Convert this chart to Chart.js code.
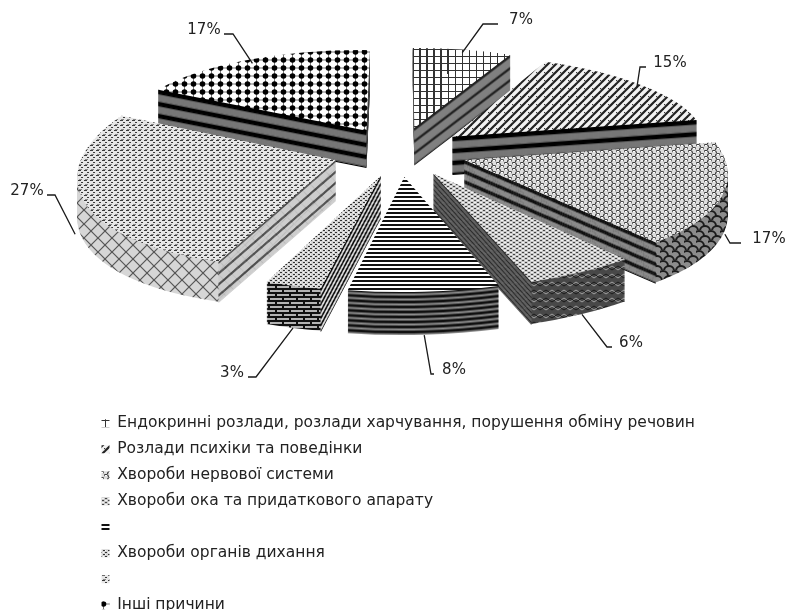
<!DOCTYPE html>
<html>
<head>
<meta charset="utf-8">
<title>Структура причин</title>
<script src="https://cdn.jsdelivr.net/npm/chart.js@4"></script>
<style>
  html, body { margin: 0; padding: 0; background: #fff; }
  canvas { display: block; }
</style>
</head>
<body>
<canvas id="pieChart" width="786" height="610"></canvas>
<script>
var categories = [
  'Ендокринні розлади, розлади харчування, порушення обміну речовин',
  'Розлади психіки та поведінки',
  'Хвороби нервової системи',
  'Хвороби ока та придаткового апарату',
  '',
  'Хвороби органів дихання',
  '',
  'Інші причини'
];
var shares = [7, 15, 17, 6, 8, 3, 27, 17];

// where the percent labels sit: text centre, then the short horizontal bit of the leader
var calloutX = [521, 670, 769, 631, 454, 232, 27, 204];
var calloutY = [20, 63, 239, 343, 370, 373, 191, 30];
var calloutNear = [498, 646, 741, 612, 434, 248, 47, 224];
var calloutElbow = [483, 640, 730, 607, 431, 256, 55, 233];

// perspective of the pie plane
var planeX = 400, planeY = 151.5, planeR = 260, planeS = 95, perspective = 0.12;
var explode = 0.26, depth = 39;

function project(u, v) {
  var w = 1 - perspective * v;
  return { x: planeX + planeR * u / w, y: planeY + planeS * v / w };
}

function tile(w, h, paint) {
  var c = document.createElement('canvas');
  c.width = w;
  c.height = h;
  var g = c.getContext('2d');
  paint(g, w, h);
  return document.getElementById('pieChart').getContext('2d').createPattern(c, 'repeat');
}

function line(g, x1, y1, x2, y2) {
  g.beginPath();
  g.moveTo(x1, y1);
  g.lineTo(x2, y2);
  g.stroke();
}

function bg(g, w, h, color) {
  g.fillStyle = color;
  g.fillRect(0, 0, w, h);
}

// greys for one depth cycle of a side wall, with a soft step between them
function band(dark, light, nDark, nLight) {
  var out = [];
  for (var i = 0; i < nDark; i++) out.push(dark);
  out.push('#555');
  for (var j = 0; j < nLight; j++) out.push(light);
  out.push('#555');
  return out;
}

var topPatterns = [
  tile(7, 7, function (g, w, h) {
    bg(g, w, h, '#fff');
    g.strokeStyle = '#333';
    line(g, 0, 0.5, w, 0.5);
    line(g, 0.5, 0, 0.5, h);
  }),
  tile(8, 8, function (g, w, h) {
    bg(g, w, h, '#f2f2f2');
    g.strokeStyle = '#222';
    g.lineWidth = 2.2;
    line(g, -2, 6, 6, -2);
    line(g, 2, 10, 10, 2);
    line(g, 6, 14, 14, 6);
    line(g, -4, 4, 4, -4);
  }),
  tile(8, 6, function (g, w, h) {
    bg(g, w, h, '#dedede');
    g.strokeStyle = '#3c3c3c';
    g.lineWidth = 1.1;
    g.beginPath();
    g.arc(2, 3, 2.5, Math.PI, 0);
    g.stroke();
    g.beginPath();
    g.arc(6, 6, 2.5, Math.PI, 0);
    g.stroke();
    g.fillStyle = '#fff';
    g.fillRect(1, 1, 2, 1);
    g.fillRect(5, 4, 2, 1);
  }),
  tile(6, 4, function (g, w, h) {
    bg(g, w, h, '#c8c8c8');
    g.fillStyle = '#444';
    g.fillRect(0, 0, 2, 1);
    g.fillRect(3, 2, 2, 1);
    g.fillStyle = '#f4f4f4';
    g.fillRect(3, 0, 2, 1);
    g.fillRect(0, 2, 2, 1);
  }),
  tile(1, 4, function (g, w, h) {
    bg(g, w, h, '#fff');
    g.fillStyle = '#111';
    g.fillRect(0, 0, 1, 2);
  }),
  tile(5, 4, function (g, w, h) {
    bg(g, w, h, '#d4d4d4');
    g.fillStyle = '#333';
    g.fillRect(0, 0, 2, 1);
    g.fillRect(3, 2, 2, 1);
    g.fillStyle = '#fafafa';
    g.fillRect(3, 0, 1, 1);
    g.fillRect(0, 2, 1, 1);
  }),
  tile(6, 5, function (g, w, h) {
    bg(g, w, h, '#e6e6e6');
    g.fillStyle = '#3a3a3a';
    g.fillRect(0, 0, 3, 1);
    g.fillRect(3, 2, 2, 1);
    g.fillStyle = '#888';
    g.fillRect(1, 4, 3, 1);
  }),
  tile(9, 8, function (g, w, h) {
    bg(g, w, h, '#fff');
    g.strokeStyle = '#777';
    line(g, 0, 4, w, 4);
    line(g, 4.5, 0, 4.5, h);
    g.fillStyle = '#000';
    g.beginPath();
    g.arc(4.5, 4, 2.8, 0, Math.PI * 2);
    g.fill();
  })
];

var rimPatterns = [
  null,
  null,
  tile(12, 10, function (g, w, h) {
    bg(g, w, h, '#8c8c8c');
    g.strokeStyle = '#1c1c1c';
    g.lineWidth = 2;
    g.beginPath();
    g.arc(3, 6, 5, Math.PI, 0);
    g.stroke();
    g.beginPath();
    g.arc(9, 11, 5, Math.PI, 0);
    g.stroke();
    g.beginPath();
    g.arc(-3, 11, 5, Math.PI, 0);
    g.stroke();
  }),
  tile(12, 8, function (g, w, h) {
    bg(g, w, h, '#484848');
    g.strokeStyle = '#a0a0a0';
    g.lineWidth = 1;
    line(g, 0, 2, 6, 6);
    line(g, 6, 6, 12, 2);
    g.strokeStyle = '#1a1a1a';
    line(g, 0, 6, 6, 2);
    line(g, 6, 2, 12, 6);
  }),
  null,
  tile(14, 8, function (g, w, h) {
    bg(g, w, h, '#b4b4b4');
    g.strokeStyle = '#111';
    g.lineWidth = 2;
    line(g, 0, 1, w, 1);
    line(g, 0, 5, w, 5);
    line(g, 3, 1, 3, 5);
    line(g, 10, 5, 10, 9);
  }),
  tile(14, 14, function (g, w, h) {
    bg(g, w, h, '#d6d6d6');
    g.strokeStyle = '#555';
    g.lineWidth = 1.2;
    line(g, 0, 0, 14, 14);
    line(g, 14, 0, 0, 14);
  }),
  null
];

var wallBands = [
  band('#222', '#808080', 2, 8),
  band('#000', '#777', 4, 6),
  band('#111', '#8a8a8a', 3, 5),
  band('#222', '#666', 1, 2),
  band('#111', '#8c8c8c', 2, 1),
  band('#000', '#eee', 2, 3),
  band('#444', '#cdcdcd', 1, 8),
  band('#000', '#777', 4, 6)
];

function sliceGeometry(arc) {
  var p = arc.getProps(['x', 'y', 'startAngle', 'endAngle', 'outerRadius']);
  var a = p.startAngle, b = p.endAngle, m = (a + b) / 2;
  var tu = explode * Math.cos(m), tv = explode * Math.sin(m);
  var T = project(tu, tv);
  var A = project(tu + Math.cos(a), tv + Math.sin(a));
  var B = project(tu + Math.cos(b), tv + Math.sin(b));
  var C = project(tu + Math.cos(m), tv + Math.sin(m));
  var ax = Math.cos(a), ay = Math.sin(a), bx = Math.cos(b), by = Math.sin(b);
  var det = ax * by - bx * ay;
  var f00 = A.x - T.x, f01 = B.x - T.x, f10 = A.y - T.y, f11 = B.y - T.y;
  var l00 = (f00 * by - f01 * ay) / det;
  var l01 = (f01 * ax - f00 * bx) / det;
  var l10 = (f10 * by - f11 * ay) / det;
  var l11 = (f11 * ax - f10 * bx) / det;
  var r = p.outerRadius;
  var matrix = new DOMMatrix([
    l00 / r, l10 / r, l01 / r, l11 / r,
    T.x - (l00 * p.x + l01 * p.y) / r,
    T.y - (l10 * p.x + l11 * p.y) / r
  ]);
  return { T: T, A: A, B: B, C: C, tv: tv, m: m, matrix: matrix, height: Math.round(depth / (1 - perspective * Math.sin(m) * 0.7)) };
}

function drawArc(ctx, arc, matrix, fill) {
  if (fill instanceof CanvasPattern) fill.setTransform(matrix.inverse());
  arc.options = Object.assign({}, arc.options, { backgroundColor: fill, borderWidth: 0 });
  ctx.save();
  ctx.setTransform(matrix);
  arc.draw(ctx);
  ctx.restore();
}

// a wall is visible when the rest of the slice lies above its top edge
function wallVisible(g, P) {
  var lineY = g.T.y + (P.y - g.T.y) * (g.C.x - g.T.x) / (P.x - g.T.x);
  return g.C.y < lineY;
}

function drawWall(ctx, g, P, colors) {
  for (var d = g.height; d >= 0; d--) {
    ctx.fillStyle = colors[d % colors.length];
    ctx.beginPath();
    ctx.moveTo(g.T.x, g.T.y + d);
    ctx.lineTo(P.x, P.y + d);
    ctx.lineTo(P.x, P.y + d + 1.3);
    ctx.lineTo(g.T.x, g.T.y + d + 1.3);
    ctx.closePath();
    ctx.fill();
  }
}

var pieSlices = {
  id: 'pieSlices',
  afterLayout: function (chart) {
    // the list runs under the pie, one entry per row
    var legend = chart.legend;
    legend.left = 91;
    legend.right = 786;
    legend.top = 405;
    legend.bottom = 640;
  },
  beforeDatasetsDraw: function (chart) {
    var ctx = chart.ctx;
    var arcs = chart.getDatasetMeta(0).data;
    var order = arcs.map(function (arc, i) {
      return { i: i, g: sliceGeometry(arc) };
    }).sort(function (p, q) {
      return p.g.tv - q.g.tv;
    });

    order.forEach(function (item) {
      var i = item.i, g = item.g, arc = arcs[i];
      for (var d = g.height; d >= 1; d--) {
        var shifted = new DOMMatrix().translate(0, d).multiply(g.matrix);
        drawArc(ctx, arc, shifted, rimPatterns[i] || wallBands[i][d % wallBands[i].length]);
      }
      if (wallVisible(g, g.A)) drawWall(ctx, g, g.A, wallBands[i]);
      if (wallVisible(g, g.B)) drawWall(ctx, g, g.B, wallBands[i]);
      drawArc(ctx, arc, g.matrix, topPatterns[i]);
    });

    // back to the plain pattern and colours so the legend boxes read normally
    topPatterns.forEach(function (p) { p.setTransform(new DOMMatrix()); });

    // leaders and percent labels
    ctx.save();
    ctx.strokeStyle = '#1a1a1a';
    ctx.lineWidth = 1.3;
    ctx.fillStyle = '#222';
    ctx.font = '15px "DejaVu Sans"';
    ctx.textAlign = 'center';
    ctx.textBaseline = 'middle';
    order.forEach(function (item) {
      var i = item.i, g = item.g;
      var lift = Math.sin(g.m) > 0 ? g.height : 3;
      var ly = calloutY[i] + 4;
      ctx.beginPath();
      ctx.moveTo(g.C.x, g.C.y + lift);
      ctx.lineTo(calloutElbow[i], ly);
      ctx.lineTo(calloutNear[i], ly);
      ctx.stroke();
      ctx.fillText(shares[i] + '%', calloutX[i], calloutY[i]);
    });
    ctx.restore();
    return false;
  }
};

var myPie = new Chart(document.getElementById('pieChart').getContext('2d'), {
  type: 'pie',
  data: {
    labels: categories,
    datasets: [{
      data: shares,
      backgroundColor: topPatterns,
      borderWidth: 0
    }]
  },
  options: {
    responsive: false,
    maintainAspectRatio: false,
    devicePixelRatio: 1,
    animation: false,
    events: [],
    plugins: {
      tooltip: { enabled: false },
      legend: {
        position: 'chartArea',
        align: 'start',
        labels: {
          boxWidth: 8,
          boxHeight: 8,
          padding: 10.5,
          color: '#222',
          font: { family: '"DejaVu Sans"', size: 15.5 }
        }
      }
    }
  },
  plugins: [pieSlices]
});
</script>
</body>
</html>
